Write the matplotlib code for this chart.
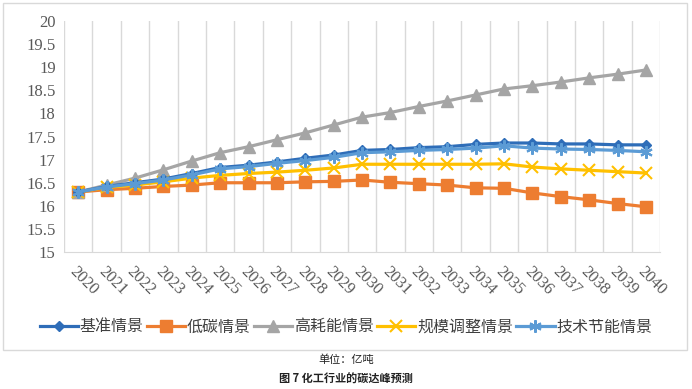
import matplotlib.pyplot as plt
from matplotlib.patches import Rectangle

plt.rcParams['font.family'] = ['Noto Sans CJK SC', 'DejaVu Sans']

years = [str(y) for y in range(2020, 2041)]
base = [16.3, 16.42, 16.5, 16.58, 16.7, 16.83, 16.88, 16.95, 17.03, 17.1, 17.2,
        17.22, 17.26, 17.28, 17.33, 17.36, 17.36, 17.34, 17.34, 17.32, 17.32]
low_carbon = [16.3, 16.35, 16.38, 16.42, 16.45, 16.5, 16.5, 16.5, 16.52, 16.53, 16.56,
              16.51, 16.48, 16.45, 16.39, 16.38, 16.28, 16.2, 16.13, 16.05, 15.98]
high_energy = [16.3, 16.45, 16.6, 16.78, 16.97, 17.15, 17.28, 17.43, 17.58, 17.75, 17.92,
               18.02, 18.15, 18.27, 18.4, 18.53, 18.6, 18.68, 18.77, 18.85, 18.94]
scale_adj = [16.3, 16.4, 16.45, 16.52, 16.6, 16.66, 16.7, 16.73, 16.77, 16.82, 16.9,
             16.9, 16.9, 16.9, 16.9, 16.91, 16.84, 16.8, 16.77, 16.74, 16.71]
tech_save = [16.3, 16.41, 16.48, 16.56, 16.67, 16.8, 16.85, 16.92, 16.98, 17.05, 17.15,
             17.17, 17.2, 17.22, 17.25, 17.3, 17.25, 17.23, 17.22, 17.2, 17.17]
labels = ['基准情景', '低碳情景', '高耗能情景', '规模调整情景', '技术节能情景']
yticks = [15, 15.5, 16, 16.5, 17, 17.5, 18, 18.5, 19, 19.5, 20]

fig = plt.figure(figsize=(6.92, 3.89), dpi=100)
fig.patches.append(Rectangle((3 / 692, 1 - 350 / 389), 684 / 692, 347 / 389,
                             transform=fig.transFigure, fill=False,
                             edgecolor='#d9d9d9', linewidth=1))
ax = fig.add_axes([0.0925, 0.352, 0.8615, 0.594])

x = list(range(len(years)))
ax.plot(x, base, color='#2E6DB8', marker='D', markersize=5, lw=2.3, label=labels[0], zorder=5)
ax.plot(x, low_carbon, color='#ED7D31', marker='s', markersize=8, lw=2.3, label=labels[1], zorder=3)
ax.plot(x, high_energy, color='#A5A5A5', marker='^', markersize=8, lw=2.3, label=labels[2], zorder=3)
ax.plot(x, scale_adj, color='#FFC000', marker='x', markersize=8, mew=1.5, lw=2.3, label=labels[3], zorder=4)
ax.plot(x, tech_save, color='#5B9BD5', marker=(6, 2, 0), markersize=9, mew=1.5, lw=2.3,
        label=labels[4], zorder=6)

ax.set_xlim(-0.5, len(years) - 0.5)
ax.set_ylim(15, 20)
ax.set_yticks(yticks)
ax.set_yticklabels([('%g' % v) for v in yticks], family='Liberation Serif',
                   fontsize=12, color='#595959')
ax.set_xticks(x)
ax.set_xticklabels(years, rotation=-45, ha='left', va='top', rotation_mode='anchor',
                   family='Liberation Serif', fontsize=12, color='#595959')
ax.tick_params(axis='both', length=0, pad=6)
ax.tick_params(axis='x', pad=8)

ax.set_xticks([i - 0.5 for i in range(len(years) + 1)], minor=True)
ax.grid(which='minor', axis='x', color='#d9d9d9', lw=1)
ax.tick_params(which='minor', length=0)
for s in ['top', 'right', 'left']:
    ax.spines[s].set_visible(False)
ax.spines['bottom'].set_color('#d9d9d9')

leg = fig.legend(loc='center', bbox_to_anchor=(0.5, 1 - 327 / 389), ncol=5,
                 frameon=False, fontsize=11.5, handlelength=2.4, handletextpad=0.1,
                 columnspacing=0.2, labelcolor='#404040')

fig.text(0.5, 1 - 360 / 389, '单位：亿吨', ha='center', va='center', fontsize=8, color='#222222')
fig.text(0.5, 1 - 379 / 389, '图 7 化工行业的碳达峰预测', ha='center', va='center',
         fontsize=8, fontweight='bold', color='#222222')

fig.savefig('out.png', dpi=100)
